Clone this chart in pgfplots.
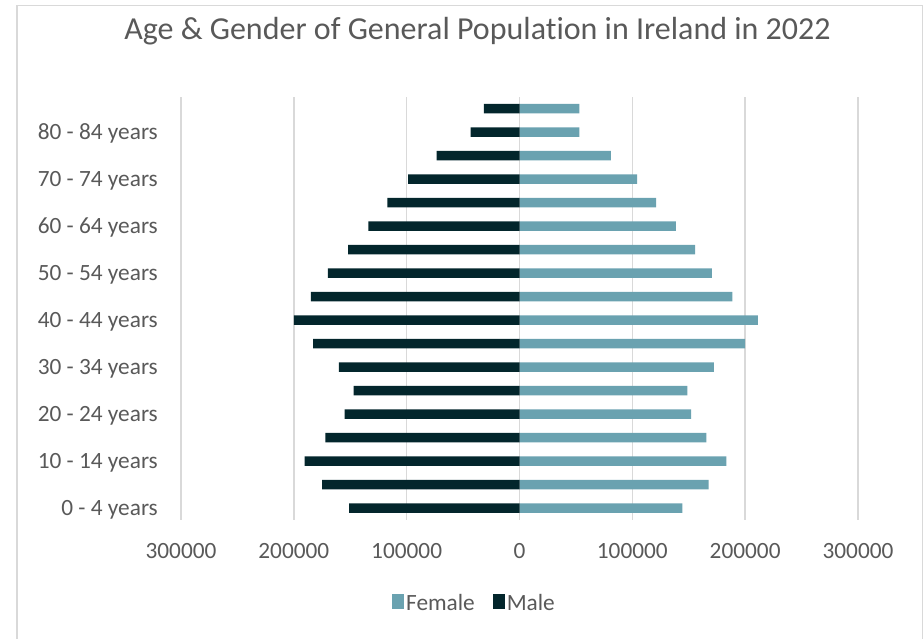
\documentclass[border=0pt]{standalone}
\usepackage{fontspec}
\setmainfont{Carlito}[Ligatures=NoCommon]
\usepackage{pgfplots}
\pgfplotsset{compat=1.18}
\definecolor{femaleC}{HTML}{6AA2B0}
\definecolor{maleC}{HTML}{03262C}
\definecolor{gridC}{HTML}{D9D9D9}
\definecolor{textC}{HTML}{595959}
\begin{document}
\begin{tikzpicture}[x=1pt,y=1pt]
\useasboundingbox (0,0) rectangle (924,639);
% chart frame (bottom edge cropped off in the original)
\draw[gridC,line width=1.3pt] (17,0) -- (17,633.5) -- (922.7,633.5) -- (922.7,0);
\node[anchor=base,font=\fontsize{32}{38}\selectfont,text=textC] at (477.5,599)
  {Age \& Gender of General Population in Ireland in 2022};
\begin{axis}[
  at={(181pt,119pt)}, anchor=south west,
  scale only axis, width=677pt, height=423pt,
  xbar, bar width=9.5pt, bar shift=0pt,
  xmin=-300000, xmax=300000, ymin=-0.5, ymax=17.5,
  xtick={-300000,-200000,-100000,0,100000,200000,300000},
  xticklabels={300000,200000,100000,0,100000,200000,300000},
  ytick={0,2,4,6,8,10,12,14,16},
  yticklabels={0 - 4 years,10 - 14 years,20 - 24 years,30 - 34 years,40 - 44 years,50 - 54 years,60 - 64 years,70 - 74 years,80 - 84 years},
  axis line style={draw=none},
  major tick length=0pt,
  xmajorgrids, grid style={gridC,line width=1.5pt},
  tick label style={font=\fontsize{23.3}{28}\selectfont,text=textC,inner sep=0pt},
  xticklabel style={anchor=base,yshift=-39pt},
  yticklabel style={anchor=base east,xshift=-23pt,yshift=-7.5pt},
  scaled x ticks=false,
  legend style={at={(0.4335,-0.196)},anchor=center,draw=none,fill=none,
    font=\fontsize{23.3}{28}\selectfont,text=textC,legend columns=2,
    /tikz/every even column/.append style={column sep=16pt},
    cells={anchor=west}},
  legend image code/.code={\fill[#1] (-3pt,-6pt) rectangle (9pt,9pt);},
  clip=false
]
% age groups 0-4, 5-9, ..., 80-84, 85+ at y = 0..17
\addplot[fill=femaleC,draw=none] coordinates {
  (144300,0) (167700,1) (183300,2) (165600,3) (152000,4) (148800,5)
  (172200,6) (199900,7) (211200,8) (188700,9) (170400,10) (155600,11)
  (138500,12) (121000,13) (104200,14) (80900,15) (53000,16) (53000,17)};
\addplot[fill=maleC,draw=none] coordinates {
  (-151000,0) (-175000,1) (-190500,2) (-172000,3) (-155000,4) (-147000,5)
  (-160000,6) (-182800,7) (-200000,8) (-184800,9) (-169800,10) (-151800,11)
  (-134000,12) (-117200,13) (-98800,14) (-73400,15) (-43300,16) (-31500,17)};
\legend{Female,Male}
\end{axis}
\end{tikzpicture}
\end{document}
